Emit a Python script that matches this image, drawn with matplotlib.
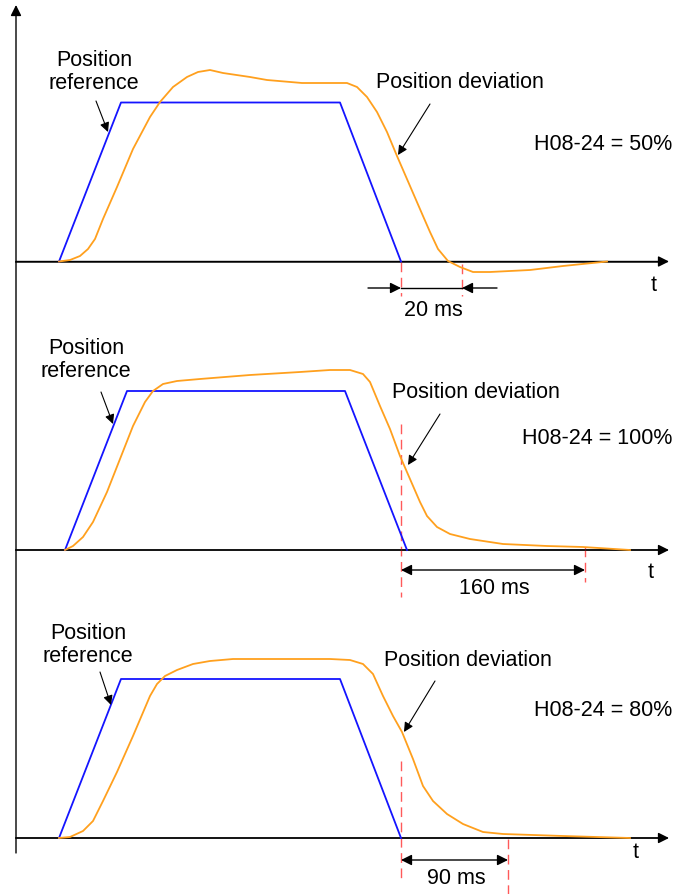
import matplotlib
matplotlib.use("Agg")
import matplotlib.pyplot as plt

plt.rcParams['font.family'] = ['Liberation Sans', 'DejaVu Sans']

# ---------------- data (time in px-like units, value = height above baseline) ----
ref1_t = [59, 121, 340, 401]
ref1_v = [0, 159, 159, 0]
dev1_t = [59, 70, 80, 88, 95, 103, 117, 133, 150, 160, 173, 187, 198, 210, 223,
          250, 267, 302, 330, 347, 357, 367, 377, 387, 397, 410, 423, 430, 438,
          448, 460, 473, 490, 530, 563, 607]
dev1_v = [0, 1.5, 5.5, 12.5, 22.5, 42.5, 74.5, 112.5, 144.5, 159.5, 174.5, 184.5,
          189.5, 191.5, 188.5, 184.5, 181.5, 178.5, 178.5, 178.5, 174.5, 164.5,
          149.5, 129.5, 105.5, 75.5, 45.5, 29.5, 12.5, 0.5, -5.5, -10.5, -10.5,
          -8.5, -4.5, 0]

ref2_t = [65, 127, 345, 407]
ref2_v = [0, 159, 159, 0]
dev2_t = [65, 73, 83, 93, 107, 120, 133, 145, 153, 163, 177, 200, 250, 300,
          330, 350, 363, 370, 380, 390, 400, 410, 420, 427, 437, 450, 470, 503,
          547, 583, 630]
dev2_v = [0, 4, 13, 28, 58, 91, 124, 148, 159, 166, 169, 171, 175, 178,
          180, 180, 176, 168, 144, 121, 94, 71, 48, 34, 23, 16, 11, 6,
          4, 3, 0]

ref3_t = [59, 121, 340, 401]
ref3_v = [0, 159, 159, 0]
dev3_t = [59, 70, 83, 93, 103, 117, 133, 150, 157, 165, 177, 193, 210, 233,
          250, 330, 350, 363, 373, 383, 393, 402, 413, 423, 433, 447, 463, 483,
          503, 563, 630]
dev3_v = [0, 1, 7, 17, 37, 66, 102, 142, 154, 162, 168, 174, 177, 179,
          179, 179, 178, 174, 164, 142, 122, 106, 79, 52, 37, 24, 14, 6,
          4, 2, 0]

gains = ["H08-24 = 50%", "H08-24 = 100%", "H08-24 = 80%"]
times = ["20 ms", "160 ms", "90 ms"]

# ---------------- layout ----------------
W, H = 673, 895
fig = plt.figure(figsize=(W / 100, H / 100), dpi=100)
ax = fig.add_axes([0, 0, 1, 1])
ax.set_xlim(0, W)
ax.set_ylim(H, 0)
ax.axis('off')

BLUE = '#1414ff'
ORANGE = '#ffa01e'
RED = '#ff5a5a'
AXC = '#404040'
FS = 15.5

# shared vertical axis
ax.annotate('', xy=(16, 6), xytext=(16, 854),
            arrowprops=dict(arrowstyle='-|>', color='black', lw=1.0,
                            mutation_scale=16, shrinkA=0, shrinkB=0))

panels = [
    dict(base=262.5, ref=(ref1_t, ref1_v), dev=(dev1_t, dev1_v), t_lbl=(654, 285),
         ref_txt=(94, 72), ref_arr=((96, 102), (108, 133)),
         dev_txt=(460, 82), dev_arr=((430, 105), (398, 156)),
         gain_y=144),
    dict(base=551, ref=(ref2_t, ref2_v), dev=(dev2_t, dev2_v), t_lbl=(651, 573),
         ref_txt=(86, 360), ref_arr=((101, 393), (113, 425)),
         dev_txt=(476, 393), dev_arr=((440, 415), (408, 466)),
         gain_y=438),
    dict(base=839, ref=(ref3_t, ref3_v), dev=(dev3_t, dev3_v), t_lbl=(636, 853),
         ref_txt=(88, 645), ref_arr=((100, 673), (111, 706)),
         dev_txt=(468, 660), dev_arr=((435, 682), (404, 733)),
         gain_y=710),
]

for i, p in enumerate(panels):
    b = p['base']
    # horizontal axis
    ax.annotate('', xy=(669, b), xytext=(16, b),
                arrowprops=dict(arrowstyle='-|>', color='black', lw=1.0,
                                mutation_scale=16, shrinkA=0, shrinkB=0))
    ax.plot([16, 660], [b, b], color=AXC, lw=1.3, zorder=1)
    ax.text(p['t_lbl'][0], p['t_lbl'][1], 't', fontsize=FS, ha='center', va='center')
    # curves
    rt, rv = p['ref']
    dt, dv = p['dev']
    ax.plot(rt, [b - v for v in rv], color=BLUE, lw=1.3, zorder=3,
            solid_joinstyle='round')
    ax.plot(dt, [b - v for v in dv], color=ORANGE, lw=1.3, zorder=3,
            solid_joinstyle='round')
    # labels
    ax.text(p['ref_txt'][0], p['ref_txt'][1], 'Position\nreference', fontsize=FS,
            ha='center', va='center', linespacing=1.15)
    ax.annotate('', xy=p['ref_arr'][1], xytext=p['ref_arr'][0],
                arrowprops=dict(arrowstyle='-|>', color='black', lw=0.8,
                                mutation_scale=14, shrinkA=0, shrinkB=0))
    ax.text(p['dev_txt'][0], p['dev_txt'][1], 'Position deviation', fontsize=FS,
            ha='center', va='center')
    ax.annotate('', xy=p['dev_arr'][1], xytext=p['dev_arr'][0],
                arrowprops=dict(arrowstyle='-|>', color='black', lw=0.8,
                                mutation_scale=14, shrinkA=0, shrinkB=0))
    ax.text(672, p['gain_y'], gains[i], fontsize=FS, ha='right', va='center')

dash = (0, (7, 4))
# panel 1 dimension
ax.plot([401, 401], [263, 297], color=RED, lw=1.0, ls=dash, zorder=2)
ax.plot([462, 462], [265, 297], color=RED, lw=1.0, ls=dash, zorder=2)
ax.plot([401, 462], [289, 289], color='black', lw=1.0)
ax.annotate('', xy=(401, 289), xytext=(368, 289),
            arrowprops=dict(arrowstyle='-|>', color='black', lw=1.0,
                            mutation_scale=16, shrinkA=0, shrinkB=0))
ax.annotate('', xy=(462, 289), xytext=(497, 289),
            arrowprops=dict(arrowstyle='-|>', color='black', lw=1.0,
                            mutation_scale=16, shrinkA=0, shrinkB=0))
ax.text(433, 310, times[0], fontsize=FS, ha='center', va='center')

# panel 2 dimension
ax.plot([401, 401], [425, 598], color=RED, lw=1.0, ls=dash, zorder=2)
ax.plot([585, 585], [548, 583], color=RED, lw=1.0, ls=dash, zorder=2)
ax.annotate('', xy=(585, 571), xytext=(401, 571),
            arrowprops=dict(arrowstyle='<|-|>', color='black', lw=1.0,
                            mutation_scale=16, shrinkA=0, shrinkB=0))
ax.text(494, 588, times[1], fontsize=FS, ha='center', va='center')

# panel 3 dimension
ax.plot([401, 401], [762, 884], color=RED, lw=1.0, ls=dash, zorder=2)
ax.plot([508, 508], [840, 895], color=RED, lw=1.0, ls=dash, zorder=2)
ax.annotate('', xy=(508, 861), xytext=(401, 861),
            arrowprops=dict(arrowstyle='<|-|>', color='black', lw=1.0,
                            mutation_scale=16, shrinkA=0, shrinkB=0))
ax.text(456, 879, times[2], fontsize=FS, ha='center', va='center')

fig.savefig('out.png', dpi=100)
